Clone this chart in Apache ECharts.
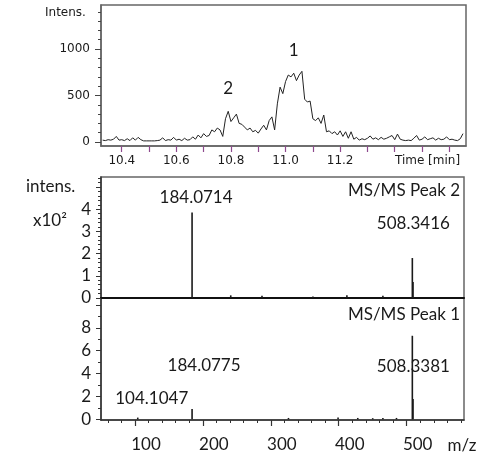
<!DOCTYPE html>
<html>
<head>
<meta charset="utf-8">
<script src="https://cdn.jsdelivr.net/npm/echarts@6/dist/echarts.min.js"></script>
<style>html,body{margin:0;padding:0;background:#fff}#c{width:487px;height:458px}</style>
</head>
<body>
<div id="c"></div>
<script>
// ---- Chromatogram (top panel) ----
const times = [10.33,10.34,10.35,10.36,10.37,10.38,10.39,10.40,10.41,10.42,10.43,10.44,10.45,10.46,10.47,10.48,10.49,10.50,10.51,10.52,10.53,10.54,10.55,10.56,10.57,10.58,10.59,10.60,10.61,10.62,10.63,10.64,10.65,10.66,10.67,10.68,10.69,10.70,10.71,10.72,10.73,10.74,10.75,10.76,10.77,10.78,10.79,10.80,10.81,10.82,10.83,10.84,10.85,10.86,10.87,10.88,10.89,10.90,10.91,10.92,10.93,10.94,10.95,10.96,10.97,10.98,10.99,11.00,11.01,11.02,11.03,11.04,11.05,11.06,11.07,11.08,11.09,11.10,11.11,11.12,11.13,11.14,11.15,11.16,11.17,11.18,11.19,11.20,11.21,11.22,11.23,11.24,11.25,11.26,11.27,11.28,11.29,11.30,11.31,11.32,11.33,11.34,11.35,11.36,11.37,11.38,11.39,11.40,11.41,11.42,11.43,11.44,11.45,11.46,11.47,11.48,11.49,11.50,11.51,11.52,11.53,11.54,11.55,11.56,11.57,11.58,11.59,11.60,11.61,11.62,11.63,11.64,11.65];
const intensities = [20,15,25,20,30,60,20,25,15,35,15,45,20,50,25,12,12,12,12,12,15,20,45,15,25,20,50,20,30,15,40,20,25,55,30,75,45,90,60,70,130,110,150,130,60,250,330,220,260,300,200,190,160,130,150,110,125,95,140,180,130,230,270,130,410,590,520,650,720,700,740,660,720,760,460,430,440,250,230,260,200,290,110,120,90,110,75,120,60,110,40,110,30,50,20,35,25,40,65,30,45,25,50,30,40,55,70,25,85,30,20,15,20,15,40,70,20,30,55,25,35,45,20,40,25,30,55,25,30,20,15,35,90];
const peakTimes = [10.79, 11.03];
const peakNames = ['2', '1'];
const timeTicks = [10.4,10.6,10.8,11.0,11.2];
const timeTickLabels = ['10.4','10.6','10.8','11.0','11.2'];
const timeAxisName = 'Time [min]';
const intensTicks = [0, 500, 1000];

// ---- MS/MS Peak 2 (middle panel), intensity x10^2 ----
const mzPeak2 = [184.0714, 241, 287, 362, 412, 465, 508.3416, 509.34];
const intPeak2 = [3.85, 0.12, 0.1, 0.07, 0.12, 0.1, 1.8, 0.72];
const labelsPeak2 = ['184.0714', '', '', '', '', '', '508.3416', ''];

// ---- MS/MS Peak 1 (bottom panel) ----
const mzPeak1 = [104.1047, 184.0775, 326, 399, 428, 450, 465, 485, 508.3381, 509.34];
const intPeak1 = [0.15, 0.9, 0.12, 0.15, 0.12, 0.1, 0.12, 0.12, 7.3, 1.77];
const labelsPeak1 = ['104.1047', '184.0775', '', '', '', '', '', '', '508.3381', ''];

const mzTicks = [100, 200, 300, 400, 500];
const ms2Ticks = [0, 1, 2, 3, 4];
const ms1Ticks = [0, 2, 4, 6, 8];

// ---------- build ----------
function range(a, b, s) { const r = []; for (let v = a; v <= b + 1e-9; v += s) r.push(+v.toFixed(4)); return r; }
const chromo = times.map((t, i) => [t, intensities[i]]);
const tags = peakTimes.map((t, i) => ({ value: [t, intensities[times.indexOf(t)]], name: peakNames[i] }));

const fTop = 'DejaVu Sans';
const fMs = 'Lato';
const txt = '#1a1a1a';
const boxCol = '#666';

const labelOffsets2 = { '184.0714': [4, -15], '508.3416': [1, -35] };
const labelOffsets1 = { '104.1047': [14, -19], '184.0775': [12, -43], '508.3381': [1, 31] };

function stickSeries(xi, yi, mz, vals) {
  return { type: 'bar', xAxisIndex: xi, yAxisIndex: yi, barWidth: 1.6, itemStyle: { color: '#1a1a1a' },
    data: mz.map((m, i) => [m, vals[i]]), silent: true, z: 3, emphasis: { disabled: true } };
}
function labelSeries(xi, yi, mz, vals, labels, offs) {
  return { type: 'scatter', xAxisIndex: xi, yAxisIndex: yi, symbolSize: 0, silent: true, z: 5,
    itemStyle: { opacity: 1 }, emphasis: { disabled: true },
    data: mz.map((m, i) => ({ value: [m, vals[i]], name: labels[i],
      label: { offset: offs[labels[i]] || [0, 0] } })).filter(d => d.name),
    label: { show: true, position: 'inside', align: 'center', verticalAlign: 'middle', formatter: p => p.name,
      fontFamily: fMs, fontSize: 17, color: txt, opacity: 1 } };
}

const xMin = 50, xMax = 584.4;
const titleStyle = (f, s) => ({ fontFamily: f, fontSize: s, fontWeight: 'normal', color: txt });
const option = {
  animation: false,
  title: [
    { text: 'Intens.', left: 45, top: 7, padding: 0, textStyle: titleStyle(fTop, 12) },
    { text: 'intens.', left: 26, top: 178, padding: 0, textStyle: titleStyle(fMs, 17) },
    { text: 'x10²', left: 33, top: 212, padding: 0, textStyle: titleStyle(fMs, 17) },
    { text: 'MS/MS Peak 2', right: 27, top: 182, padding: 0, textStyle: titleStyle(fMs, 17) },
    { text: 'MS/MS Peak 1', right: 27, top: 306, padding: 0, textStyle: titleStyle(fMs, 17) }
  ],
  grid: [
    { left: 101, top: 5, width: 365, height: 141, show: true, borderColor: boxCol, borderWidth: 1.5, backgroundColor: 'transparent' },
    { left: 101, top: 177, width: 363, height: 121, show: true, borderColor: boxCol, borderWidth: 1.5, backgroundColor: 'transparent' },
    { left: 101, top: 298, width: 363, height: 122, show: true, borderColor: boxCol, borderWidth: 1.5, backgroundColor: 'transparent' }
  ],
  xAxis: [
    { type: 'value', gridIndex: 0, position: 'bottom', min: 10.324, max: 11.661, splitLine: { show: false },
      axisLine: { show: true, onZero: false, lineStyle: { color: boxCol, width: 1.5 } },
      axisTick: { show: true, inside: false, customValues: range(10.4, 11.6, 0.1), length: 6, lineStyle: { color: '#8e4a8e', width: 1.2 } },
      axisLabel: { show: true, customValues: timeTicks.concat([11.52]), margin: 9, fontFamily: fTop, fontSize: 12, color: txt,
        formatter: v => { const i = timeTicks.findIndex(t => Math.abs(t - v) < 1e-6); return i >= 0 ? timeTickLabels[i] : timeAxisName; } } },
    { type: 'value', gridIndex: 1, position: 'bottom', min: xMin, max: xMax, splitLine: { show: false },
      axisLine: { show: true, onZero: false, lineStyle: { color: '#111', width: 2 } }, axisTick: { show: false }, axisLabel: { show: false } },
    { type: 'value', gridIndex: 2, position: 'bottom', min: xMin, max: xMax, splitLine: { show: false },
      name: 'm/z', nameLocation: 'end', nameGap: -2,
      nameTextStyle: { fontFamily: fMs, fontSize: 17, color: txt, align: 'center', verticalAlign: 'top', padding: [17, 0, 0, 0] },
      axisLine: { show: true, onZero: false, lineStyle: { color: '#333', width: 1.5 } },
      axisTick: { show: true, customValues: mzTicks, length: 6, lineStyle: { color: '#333', width: 1.2 } },
      axisLabel: { show: true, customValues: mzTicks, margin: 16, fontFamily: fMs, fontSize: 17, color: txt, padding: [0, 0, 0, 22] } },
    { type: 'value', gridIndex: 2, position: 'bottom', min: xMin, max: xMax, splitLine: { show: false },
      axisLine: { show: false, onZero: false }, axisLabel: { show: false },
      axisTick: { show: true, customValues: range(60, 580, 20), length: 3, lineStyle: { color: '#333', width: 1 } } }
  ],
  yAxis: [
    { type: 'value', gridIndex: 0, position: 'left', min: -43, max: 1473, splitLine: { show: false },
      axisLine: { show: true, onZero: false, lineStyle: { color: boxCol, width: 1.5 } },
      axisTick: { show: true, customValues: intensTicks, length: 6, lineStyle: { color: '#444' } },
      axisLabel: { show: true, customValues: intensTicks, margin: 11, fontFamily: fTop, fontSize: 12, color: txt, formatter: v => String(v) } },
    { type: 'value', gridIndex: 0, position: 'left', min: -43, max: 1473, splitLine: { show: false },
      axisLine: { show: false, onZero: false }, axisLabel: { show: false },
      axisTick: { show: true, customValues: range(0, 1400, 100), length: 3, lineStyle: { color: '#444' } } },
    { type: 'value', gridIndex: 1, position: 'left', min: 0, max: 5.45, splitLine: { show: false },
      axisLine: { show: true, onZero: false, lineStyle: { color: '#333', width: 1.5 } },
      axisTick: { show: true, customValues: range(0, 5, 1), length: 5, lineStyle: { color: '#333' } },
      axisLabel: { show: true, customValues: ms2Ticks, margin: 10, fontFamily: fMs, fontSize: 17, color: txt } },
    { type: 'value', gridIndex: 1, position: 'left', min: 0, max: 5.45, splitLine: { show: false },
      axisLine: { show: false, onZero: false }, axisLabel: { show: false },
      axisTick: { show: true, customValues: range(0.2, 5.4, 0.2), length: 3, lineStyle: { color: '#333' } } },
    { type: 'value', gridIndex: 2, position: 'left', min: -0.06, max: 10.6, splitLine: { show: false },
      axisLine: { show: true, onZero: false, lineStyle: { color: '#333', width: 1.5 } },
      axisTick: { show: true, customValues: range(0, 10, 2), length: 5, lineStyle: { color: '#333' } },
      axisLabel: { show: true, customValues: ms1Ticks, margin: 10, fontFamily: fMs, fontSize: 17, color: txt } },
    { type: 'value', gridIndex: 2, position: 'left', min: -0.06, max: 10.6, splitLine: { show: false },
      axisLine: { show: false, onZero: false }, axisLabel: { show: false },
      axisTick: { show: true, customValues: range(1, 10, 1), length: 3, lineStyle: { color: '#333' } } }
  ],
  series: [
    { type: 'line', xAxisIndex: 0, yAxisIndex: 0, data: chromo, showSymbol: false, symbol: 'none',
      lineStyle: { color: '#222', width: 1 }, silent: true, z: 3, emphasis: { disabled: true } },
    { type: 'scatter', xAxisIndex: 0, yAxisIndex: 0, symbolSize: 0, data: tags, silent: true, z: 5,
      itemStyle: { opacity: 1 }, emphasis: { disabled: true },
      label: { show: true, formatter: p => p.name, fontFamily: fMs, fontSize: 17, color: txt, opacity: 1,
        offset: [0, -23], align: 'center', verticalAlign: 'middle', position: 'inside' } },
    stickSeries(1, 2, mzPeak2, intPeak2),
    stickSeries(2, 4, mzPeak1, intPeak1),
    labelSeries(1, 2, mzPeak2, intPeak2, labelsPeak2, labelOffsets2),
    labelSeries(2, 4, mzPeak1, intPeak1, labelsPeak1, labelOffsets1)
  ]
};

const chart = echarts.init(document.getElementById('c'), null, { renderer: 'canvas' });
chart.setOption(option);
</script>
</body>
</html>
